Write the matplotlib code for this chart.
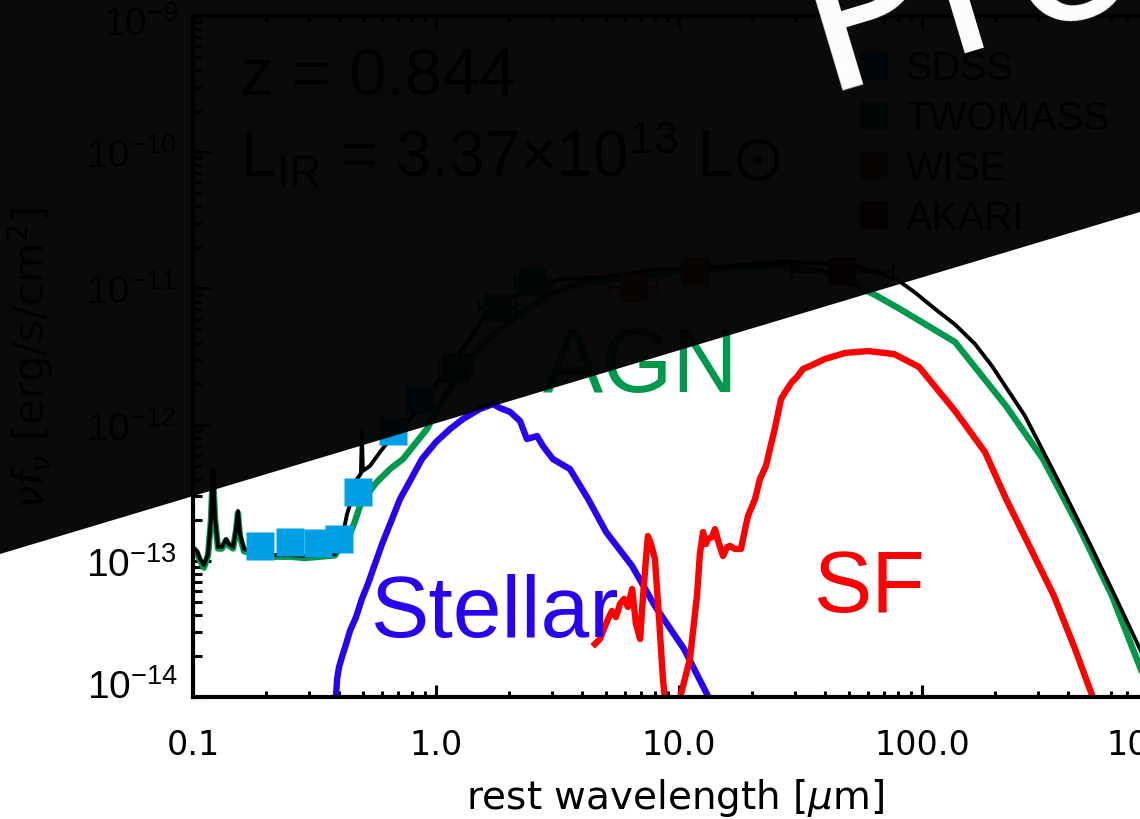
import numpy as np
import matplotlib
matplotlib.use('Agg')
import matplotlib.pyplot as plt
from matplotlib.lines import Line2D
from matplotlib.patches import Polygon
from matplotlib.ticker import NullFormatter, LogLocator

plt.rcParams['mathtext.fontset'] = 'custom'
plt.rcParams['mathtext.rm'] = 'Liberation Sans'
plt.rcParams['mathtext.it'] = 'DejaVu Sans:italic'
plt.rcParams['mathtext.default'] = 'regular'

# ---------------- data: log10(rest wavelength / um), log10(nu f_nu / erg/s/cm^2)
total_loglam = [-1.000,-0.984,-0.971,-0.955,-0.938,-0.926,-0.922,-0.918,-0.914,-0.909,-0.897,-0.881,-0.864,-0.852,-0.835,-0.823,-0.815,-0.807,-0.790,-0.765,-0.724,-0.663,-0.601,-0.539,-0.477,-0.416,-0.387,-0.366,-0.342,-0.325,-0.309,-0.305,-0.301,-0.272,-0.230,-0.189,-0.107,0.016,0.140,0.193,0.292,0.387,0.523,0.675,0.922,1.016,1.251,1.428,1.634,1.745,1.840,1.909,1.971,2.053,2.136,2.218,2.288,2.424,2.572,2.691,2.794,2.897,3.000]
total_logf = [-12.899,-12.928,-12.987,-13.031,-12.950,-12.693,-12.50,-12.326,-12.50,-12.693,-12.899,-12.899,-12.840,-12.877,-12.899,-12.767,-12.634,-12.803,-12.913,-12.928,-12.950,-12.957,-12.957,-12.965,-12.957,-12.950,-12.840,-12.656,-12.524,-12.399,-12.36,-12.054,-12.34,-12.304,-12.201,-12.106,-11.959,-11.665,-11.372,-11.225,-11.078,-11.004,-10.931,-10.924,-10.858,-10.858,-10.828,-10.806,-10.821,-10.843,-10.900,-10.950,-11.030,-11.150,-11.265,-11.408,-11.570,-11.937,-12.451,-12.877,-13.258,-13.648,-14.051]

agn_loglam = [-1.000,-0.984,-0.971,-0.955,-0.938,-0.926,-0.922,-0.918,-0.914,-0.909,-0.897,-0.881,-0.864,-0.852,-0.835,-0.823,-0.815,-0.807,-0.790,-0.765,-0.724,-0.663,-0.601,-0.539,-0.477,-0.416,-0.383,-0.354,-0.333,-0.313,-0.272,-0.243,-0.189,-0.136,-0.037,0.029,0.099,0.181,0.333,0.457,0.593,0.757,1.004,1.251,1.428,1.634,1.757,1.807,1.909,2.136,2.346,2.498,2.650,2.782,2.897,3.000]
agn_logf = [-12.91,-12.94,-13.00,-13.05,-12.96,-12.70,-12.52,-12.34,-12.52,-12.70,-12.91,-12.91,-12.85,-12.89,-12.91,-12.78,-12.65,-12.82,-12.93,-12.94,-12.96,-12.97,-12.97,-12.98,-12.97,-12.96,-12.877,-12.803,-12.708,-12.598,-12.488,-12.421,-12.326,-12.253,-12.032,-11.812,-11.628,-11.423,-11.203,-11.056,-10.960,-10.931,-10.872,-10.843,-10.828,-10.887,-11.004,-11.048,-11.151,-11.394,-11.864,-12.253,-12.767,-13.258,-13.780,-14.235]

star_loglam = [-0.416,-0.412,-0.407,-0.399,-0.387,-0.370,-0.354,-0.329,-0.305,-0.280,-0.251,-0.222,-0.189,-0.148,-0.107,-0.058,0.000,0.058,0.111,0.181,0.235,0.263,0.305,0.346,0.374,0.416,0.440,0.481,0.551,0.626,0.700,0.807,0.901,1.021,1.123,1.150]
star_logf = [-14.3,-14.007,-13.868,-13.780,-13.706,-13.611,-13.515,-13.413,-13.280,-13.170,-13.023,-12.877,-12.730,-12.546,-12.414,-12.253,-12.128,-12.032,-11.959,-11.885,-11.849,-11.878,-11.907,-11.974,-12.106,-12.084,-12.157,-12.253,-12.326,-12.546,-12.789,-13.038,-13.332,-13.648,-14.007,-14.2]

sf_loglam = [0.654,0.675,0.691,0.708,0.724,0.741,0.757,0.774,0.790,0.807,0.823,0.840,0.852,0.864,0.872,0.885,0.901,0.918,0.934,0.942,0.971,1.004,1.045,1.074,1.086,1.099,1.111,1.119,1.136,1.148,1.165,1.181,1.198,1.210,1.230,1.255,1.272,1.284,1.313,1.333,1.358,1.374,1.391,1.407,1.420,1.440,1.465,1.486,1.510,1.539,1.601,1.683,1.778,1.885,1.988,2.136,2.259,2.346,2.444,2.543,2.630,2.704,2.733]
sf_logf = [-13.611,-13.574,-13.501,-13.427,-13.369,-13.413,-13.317,-13.280,-13.339,-13.207,-13.464,-13.574,-13.258,-12.987,-12.818,-12.877,-12.987,-13.427,-13.868,-14.015,-14.455,-14.007,-13.721,-13.258,-12.950,-12.789,-12.877,-12.840,-12.825,-12.767,-12.877,-12.965,-12.899,-12.891,-12.913,-12.913,-12.767,-12.671,-12.546,-12.399,-12.304,-12.179,-12.054,-11.922,-11.812,-11.753,-11.687,-11.650,-11.592,-11.570,-11.518,-11.474,-11.460,-11.482,-11.577,-11.900,-12.201,-12.546,-12.899,-13.258,-13.648,-14.007,-14.198]

# photometry
sdss_loglam = [-0.724,-0.601,-0.486,-0.399,-0.321,-0.177,-0.066]
sdss_logf = [-12.891,-12.862,-12.869,-12.840,-12.495,-12.047,-11.812]
twomass_loglam = [0.078,0.251,0.395]
twomass_logf = [-11.577,-11.137,-10.953]
twomass_dlog = [0.07,0.08,0.07]
wise_loglam = [0.811,1.066]
wise_logf = [-10.990,-10.880]
wise_dlog = [0.10,0.0]
akari_loglam = [1.671]
akari_logf = [-10.872]
akari_dlog = [0.21]

survey_names = ['SDSS', 'TWOMASS', 'WISE', 'AKARI']
survey_colors = ['#009FE3', '#00994C', '#D2601E', '#8B0A2A']

xtick_vals = [0.1, 1.0, 10.0, 100.0, 1000.0]
xtick_labels = ['0.1', '1.0', '10.0', '100.0', '1000.0']
ytick_exps = [-14, -13, -12, -11, -10, -9]

C_AGN = '#00994C'
C_STAR = '#2A00F0'
C_SF = '#FF0000'

W, H = 1140, 820
fig = plt.figure(figsize=(W / 100, H / 100), dpi=100)
fig.patch.set_facecolor('white')

def fx(px):
    return px / W

def fy(py):
    return 1 - py / H

ax = fig.add_axes([fx(193), fy(698), (1165 - 193) / W, (698 - 17) / H])
ax.set_xscale('log')
ax.set_yscale('log')
ax.set_xlim(0.1, 1000)
ax.set_ylim(1e-14, 1e-9)

def arr(logs):
    return 10 ** np.asarray(logs, dtype=float)

ax.plot(arr(agn_loglam), arr(agn_logf), color=C_AGN, lw=4.6, zorder=2, solid_joinstyle='round')
ax.plot(arr(total_loglam), arr(total_logf), color='black', lw=2.8, zorder=3, solid_joinstyle='round')
ax.plot(arr(star_loglam), arr(star_logf), color=C_STAR, lw=4.6, zorder=2.5, solid_joinstyle='round')
ax.plot(arr(sf_loglam), arr(sf_logf), color=C_SF, lw=4.6, zorder=2.5, solid_joinstyle='round')

def phot(loglam, logf, dlog, color):
    lam = arr(loglam)
    f = arr(logf)
    if dlog is not None:
        d = np.asarray(dlog)
        xerr = [lam - 10 ** (np.asarray(loglam) - d), 10 ** (np.asarray(loglam) + d) - lam]
        ax.errorbar(lam, f, xerr=xerr, fmt='none', ecolor=color, elinewidth=2, capsize=5, capthick=2, zorder=4)
    ax.plot(lam, f, ls='none', marker='s', ms=19.5, color=color, mec='none', zorder=5)

phot(sdss_loglam, sdss_logf, None, survey_colors[0])
phot(twomass_loglam, twomass_logf, twomass_dlog, survey_colors[1])
phot(wise_loglam, wise_logf, wise_dlog, survey_colors[2])
phot(akari_loglam, akari_logf, akari_dlog, survey_colors[3])

# axes styling
for s in ax.spines.values():
    s.set_linewidth(3)
ax.tick_params(which='both', direction='in', top=True, right=True, width=2.2, colors='black')
ax.tick_params(axis='x', which='major', length=9)
ax.tick_params(axis='x', which='minor', length=4.5)
ax.tick_params(axis='y', which='major', length=13)
ax.tick_params(axis='y', which='minor', length=6.5)
ax.xaxis.set_minor_locator(LogLocator(base=10, subs=np.arange(2, 10)))
ax.yaxis.set_minor_locator(LogLocator(base=10, subs=np.arange(2, 10)))
ax.xaxis.set_minor_formatter(NullFormatter())
ax.yaxis.set_minor_formatter(NullFormatter())
ax.set_xticks(xtick_vals)
ax.set_xticklabels(xtick_labels, fontfamily='DejaVu Sans', fontsize=24)
ax.set_yticks([10.0 ** e for e in ytick_exps])
# end labels are nudged inward (as in the reference), drawn separately below
ylabels = [r'10$^{%d}$' % e if e not in (-14, -9) else '' for e in ytick_exps]
ax.set_yticklabels(ylabels, fontfamily='Liberation Sans', fontsize=28)
ax.tick_params(axis='x', which='major', pad=22)
ax.tick_params(axis='y', which='major', pad=12)
fig.text(fx(178), fy(688), r'10$^{-14}$', fontsize=28, family='Liberation Sans', ha='right', va='center')
fig.text(fx(178), fy(25), r'10$^{-9}$', fontsize=28, family='Liberation Sans', ha='right', va='center', zorder=5)

fig.text(fx(675), fy(798), r'rest wavelength [$\mathit{\mu}$m]', fontsize=28, family='DejaVu Sans',
         ha='center', va='center')
fig.text(fx(30), fy(358), r'$\mathit{\nu f}_{\mathit{\nu}}$ [erg/s/cm$^{2}$]', fontsize=30,
         family='DejaVu Sans', rotation=90, ha='center', va='center')

# annotations inside plot
fig.text(fx(240), fy(95), 'z = 0.844', fontsize=48, family='Liberation Sans', ha='left', va='baseline', zorder=5)
fig.text(fx(240), fy(178), r'L$_{IR}$ = 3.37×10$^{13}$ L$\odot$', fontsize=46, family='Liberation Sans',
         ha='left', va='baseline', zorder=5)
fig.text(fx(543), fy(392), 'AGN', fontsize=65, family='Liberation Sans', color=C_AGN, ha='left', va='baseline', zorder=5)
fig.text(fx(370), fy(637), 'Stellar', fontsize=63, family='Liberation Sans', color=C_STAR, ha='left', va='baseline', zorder=5)
fig.text(fx(813), fy(612), 'SF', fontsize=63, family='Liberation Sans', color=C_SF, ha='left', va='baseline', zorder=5)

handles = [Line2D([], [], ls='none', marker='s', ms=20, color=c, mec='none') for c in survey_colors]
ax.legend(handles, survey_names, loc='upper left', bbox_to_anchor=(fx(858), fy(50)),
          bbox_transform=fig.transFigure, frameon=False, prop={'family': 'Liberation Sans', 'size': 28.5},
          handlelength=0.75, handletextpad=0.45, labelspacing=0.3, borderpad=0, borderaxespad=0)

# dark diagonal overlay and white title fragment
overlay = Polygon([[fx(-10), fy(558)], [fx(1150), fy(210)], [fx(1150), fy(-10)], [fx(-10), fy(-10)]],
                  closed=True, transform=fig.transFigure, facecolor='black', edgecolor='none', alpha=0.96, zorder=10)
fig.patches.append(overlay)
fig.text(fx(822), fy(90), 'Prob', fontsize=160, family=['Lato', 'Liberation Sans'],
         fontweight='normal', color='white', rotation=16.7,
         rotation_mode='anchor', ha='left', va='baseline', zorder=11)

fig.savefig('out.png', dpi=100)
